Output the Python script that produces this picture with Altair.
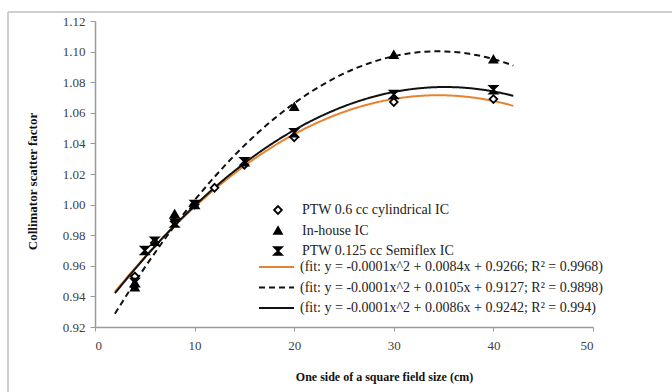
import altair as alt
import pandas as pd

# ---- data ----
series_names = ["PTW 0.6 cc cylindrical IC", "In-house IC", "PTW 0.125 cc Semiflex IC"]

ptw06_x = [4, 6, 8, 10, 12, 15, 20, 30, 40]
ptw06_y = [0.953, 0.975, 0.989, 1.000, 1.011, 1.026, 1.044, 1.067, 1.069]

inhouse_x = [4, 4, 8, 10, 20, 30, 40]
inhouse_y = [0.946, 0.949, 0.994, 1.000, 1.064, 1.098, 1.095]

semiflex_x = [4, 5, 6, 8, 10, 15, 20, 30, 40]
semiflex_y = [0.949, 0.970, 0.976, 0.988, 1.000, 1.028, 1.047, 1.072, 1.075]

fit_labels = [
    "(fit: y = -0.0001x^2 + 0.0084x + 0.9266; R² = 0.9968)",
    "(fit: y = -0.0001x^2 + 0.0105x + 0.9127; R² = 0.9898)",
    "(fit: y = -0.0001x^2 + 0.0086x + 0.9242; R² = 0.994)",
]

x_ticks = [0, 10, 20, 30, 40, 50]
y_ticks = [0.92, 0.94, 0.96, 0.98, 1.00, 1.02, 1.04, 1.06, 1.08, 1.10, 1.12]

rows = []
for name, fit, xs, ys in zip(series_names, fit_labels,
                             [ptw06_x, inhouse_x, semiflex_x],
                             [ptw06_y, inhouse_y, semiflex_y]):
    for xv, yv in zip(xs, ys):
        rows.append({"x": xv, "y": yv, "series": name, "fit": fit})
df = pd.DataFrame(rows)

FONT = "Times New Roman, Liberation Serif, Times, serif"
hourglass = "M-1,-1L1,-1L-1,1L1,1Z"

x_enc = alt.X("x:Q", scale=alt.Scale(domain=[0, 50], nice=False),
              axis=alt.Axis(values=x_ticks, title="One side of a square field size (cm)",
                            grid=False, tickSize=4, labelPadding=8, titlePadding=19,
                            titleX=289, titleFontSize=12))
y_enc = alt.Y("y:Q", scale=alt.Scale(domain=[0.92, 1.12], nice=False, zero=False),
              axis=alt.Axis(values=y_ticks, format=".2f", title="Collimator scatter factor",
                            grid=False, tickSize=5, labelPadding=5, titlePadding=23,
                            titleY=160))

line_legend = alt.Legend(title=None, orient="none", legendX=163, legendY=237,
                         symbolType="stroke", symbolSize=1225, symbolStrokeWidth=2,
                         labelOffset=5, clipHeight=18, rowPadding=2.5, padding=0)

fits = alt.Chart(df).transform_regression(
    "x", "y", method="poly", order=2, extent=[2, 42], groupby=["fit"]
).mark_line(strokeWidth=2).encode(
    x=x_enc, y=y_enc,
    color=alt.Color("fit:N", scale=alt.Scale(domain=fit_labels,
                                             range=["#E8822E", "#111111", "#111111"]),
                    legend=line_legend),
    strokeDash=alt.StrokeDash("fit:N", scale=alt.Scale(domain=fit_labels,
                                                       range=[[1, 0], [6, 4], [1, 0]]),
                              legend=line_legend),
)

point_legend = alt.Legend(title=None, orient="none", legendX=176, legendY=180,
                          labelOffset=17, clipHeight=18, rowPadding=2.5, padding=0,
                          symbolStrokeWidth=1.8, symbolSize=60)

points = alt.Chart(df).mark_point(filled=False, size=60, strokeWidth=1.8, opacity=1).encode(
    x=x_enc, y=y_enc,
    shape=alt.Shape("series:N", scale=alt.Scale(domain=series_names,
                                                range=["diamond", "triangle-up", hourglass]),
                    legend=point_legend),
    fill=alt.Fill("series:N", scale=alt.Scale(domain=series_names,
                                              range=["white", "black", "black"]),
                  legend=point_legend),
    stroke=alt.Stroke("series:N", scale=alt.Scale(domain=series_names,
                                                  range=["black", "black", "black"]),
                      legend=point_legend),
)

frame = alt.Chart(df).mark_rule(color="#cfcfcf", strokeWidth=1.5).encode(
    x=alt.value(-87), x2=alt.value(600), y=alt.value(-9)
) + alt.Chart(df).mark_rule(color="#cfcfcf", strokeWidth=1.5).encode(
    x=alt.value(-87), y=alt.value(-9), y2=alt.value(400)
)

chart = alt.layer(frame, fits, points).properties(
    width=498, height=306,
    padding={"left": 95, "top": 21, "right": 79, "bottom": 65},
    autosize=alt.AutoSizeParams(type="none"),
).configure_view(strokeWidth=0).configure_axis(
    domainColor="#9a9a9a", tickColor="#9a9a9a", domainWidth=1.5,
    labelFont=FONT, labelFontSize=13, labelColor="#404040",
    titleFont=FONT, titleFontSize=13, titleFontWeight="bold", titleColor="#111111",
).configure_legend(
    labelFont=FONT, labelFontSize=14, labelColor="#222222", labelLimit=500,
)

chart.save("out.html", embed_options={"renderer": "svg", "actions": False})
